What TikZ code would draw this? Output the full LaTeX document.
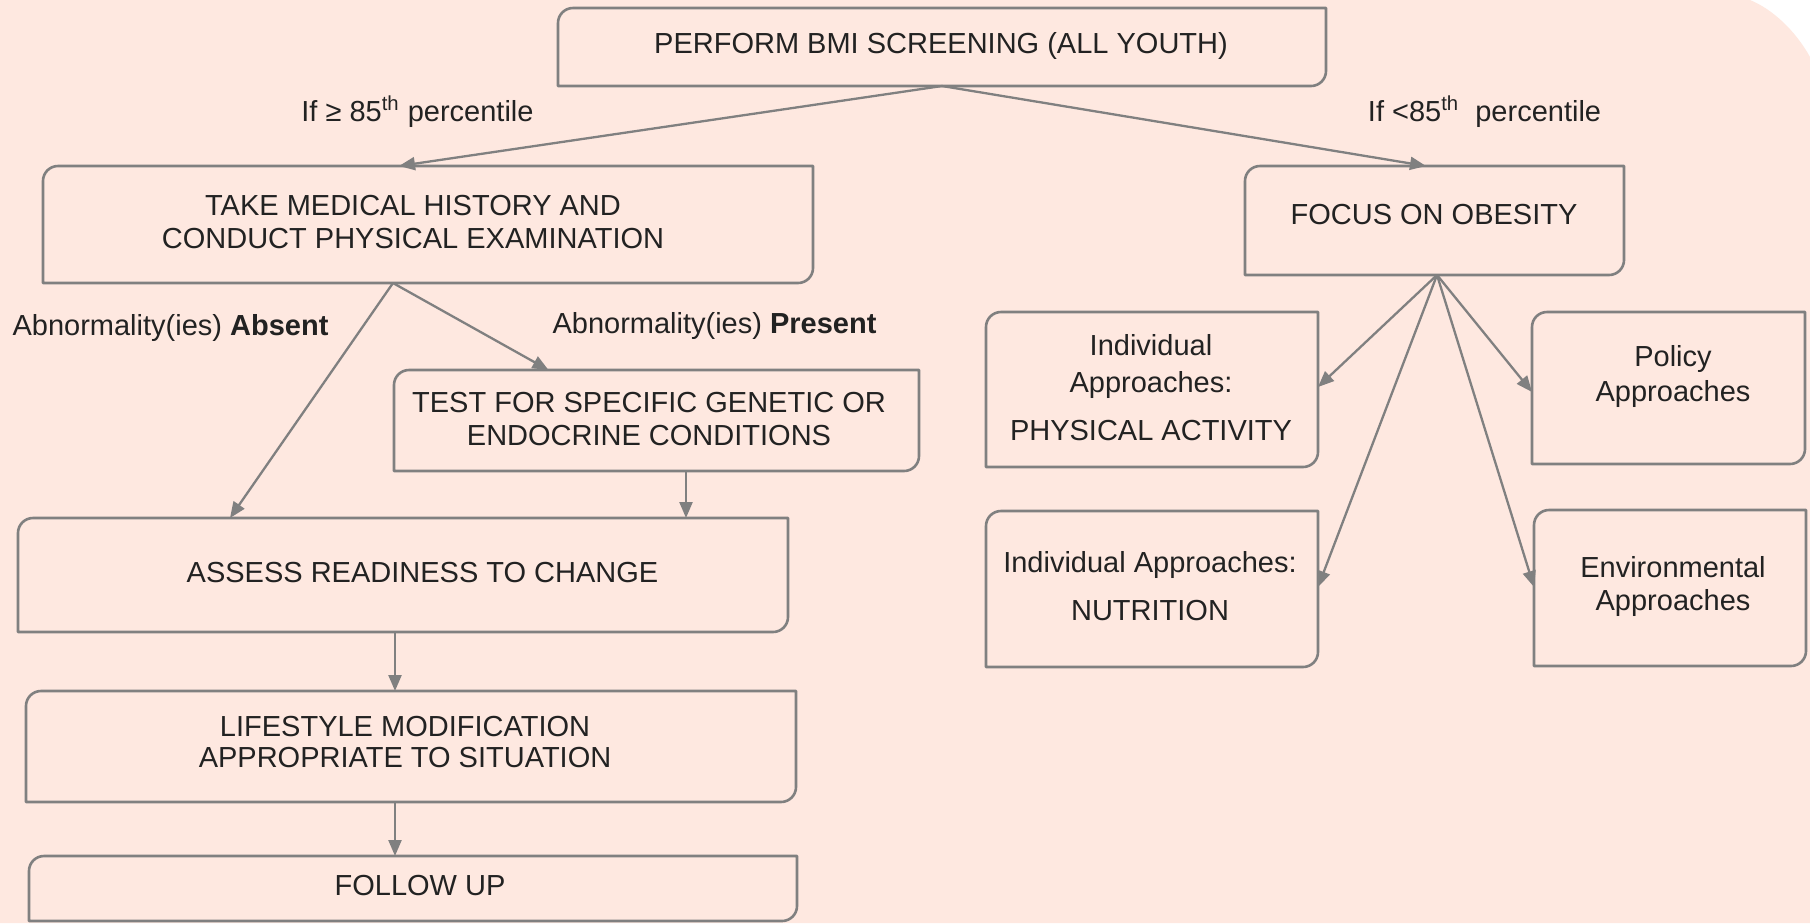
\documentclass[tikz,border=0pt]{standalone}
\usepackage{fontspec}
\setmainfont{Liberation Sans}
\usetikzlibrary{arrows.meta,calc}
\definecolor{bgpink}{RGB}{254,232,224}
\definecolor{edge}{RGB}{128,128,128}
\definecolor{ink}{RGB}{34,34,34}
\tikzset{
  boxnode/.style={rectangle, draw=none, inner sep=0pt, outer sep=0pt},
  boxline/.style={draw=edge, line width=1.3pt, line join=round},
  txt/.style={text=ink, font=\fontsize{14.5pt}{16.5pt}\selectfont, inner sep=0pt, align=center},
  link/.style={draw=edge, line width=1.15pt, -{Triangle[length=8pt,width=6.5pt]}},
}
% box with rounded top-left and bottom-right corners: name, x1, y1, x2, y2
\newcommand\cornerbox[5]{%
  \pgfmathsetmacro\cbw{(#4-#2)*0.5}%
  \pgfmathsetmacro\cbh{(#5-#3)*0.5}%
  \node[boxnode, minimum width=\cbw pt, minimum height=\cbh pt] (#1) at ({(#2+#4)/2},{(#3+#5)/2}) {};%
  \draw[boxline] (#1.south west) -- ([yshift=-7.5pt]#1.north west)
    arc[start angle=180, end angle=90, radius=7.5pt] -- (#1.north east)
    -- ([yshift=7.5pt]#1.south east)
    arc[start angle=0, end angle=-90, radius=7.5pt] -- cycle;%
}
\begin{document}
\begin{tikzpicture}[x=0.5pt,y=-0.5pt]
\path[use as bounding box] (0,0) rectangle (1810,923);
\fill[white] (0,0) rectangle (1810,923);
\fill[bgpink] (0,0) -- (1750,0) .. controls (1772,9) and (1795,30) .. (1810,57)
  -- (1810,923) -- (0,923) -- cycle;

% boxes
\cornerbox{top}{558}{8}{1326}{86}
\cornerbox{take}{43}{166}{813}{283}
\cornerbox{focus}{1245}{166}{1624}{275}
\cornerbox{test}{394}{370}{919}{471}
\cornerbox{assess}{18}{518}{788}{632}
\cornerbox{life}{26}{691}{796}{802}
\cornerbox{follow}{29}{856}{797}{921}
\cornerbox{pa}{986}{312}{1318}{467}
\cornerbox{policy}{1532}{312}{1805}{464}
\cornerbox{nut}{986}{511}{1318}{667}
\cornerbox{env}{1534}{510}{1806}{666}

% box texts
\node[txt, anchor=base] (t-top) at (941,53) {PERFORM BMI SCREENING (ALL YOUTH)};
\node[txt] (t-take) at (413,222.5) {TAKE MEDICAL HISTORY AND\\CONDUCT PHYSICAL EXAMINATION};
\node[txt, anchor=base] (t-focus) at (1434,224) {FOCUS ON OBESITY};
\node[txt] (t-test) at (649,419.5) {TEST FOR SPECIFIC GENETIC OR\\ENDOCRINE CONDITIONS};
\node[txt, anchor=base] (t-assess) at (422.5,582) {ASSESS READINESS TO CHANGE};
\node[txt] (t-life) at (405,741.5) {LIFESTYLE MODIFICATION\\[-1pt]APPROPRIATE TO SITUATION};
\node[txt, anchor=base] (t-follow) at (420,895) {FOLLOW UP};
\node[txt] (t-pa) at (1151,387.5) {Individual\\[2pt]Approaches:\\[7.5pt]PHYSICAL ACTIVITY};
\node[txt] (t-policy) at (1673,376.5) {Policy\\[1pt]Approaches};
\node[txt] (t-nut) at (1150,586) {Individual Approaches:\\[7.25pt]NUTRITION};
\node[txt] (t-env) at (1673,586.5) {Environmental\\Approaches};

% branch labels
\node[txt, anchor=base] (l-hi) at (417.5,121) {If ≥ 85\textsuperscript{th} percentile};
\node[txt, anchor=base] (l-lo) at (1484.5,121) {If <85\textsuperscript{th}\ \ percentile};
\node[txt, anchor=base] (l-abs) at (170.5,335) {Abnormality(ies) \textbf{Absent}};
\node[txt, anchor=base] (l-pre) at (714.5,333) {Abnormality(ies) \textbf{Present}};

% connectors
\draw[link] (top.south) -- ($(take.north)+(-29,0)$);
\draw[link] (top.south) -- ($(focus.north)+(-8.5,0)$);
\coordinate (tb) at ($(take.south)+(-35,0)$);
\draw[link] (tb) -- ($(test.north)+(-108,0)$);
\draw[link] (tb) -- ($(assess.north)+(-173,0)$);
\draw[link] ($(test.south)+(29.5,0)$) -- ($(assess.north)+(283,0)$);
\draw[link] ($(assess.south)+(-8,0)$) -- ($(life.north)+(-16,0)$);
\draw[link] ($(life.south)+(-16,0)$) -- ($(follow.north)+(-18,0)$);
\coordinate (fb) at ($(focus.south)+(2.5,0)$);
\draw[link] (fb) -- ($(pa.east)+(0,-2.5)$);
\draw[link] (fb) -- ($(nut.east)+(0,-2)$);
\draw[link] (fb) -- ($(policy.west)+(0,4)$);
\draw[link] (fb) -- ($(env.west)+(0,-1)$);
\end{tikzpicture}
\end{document}
